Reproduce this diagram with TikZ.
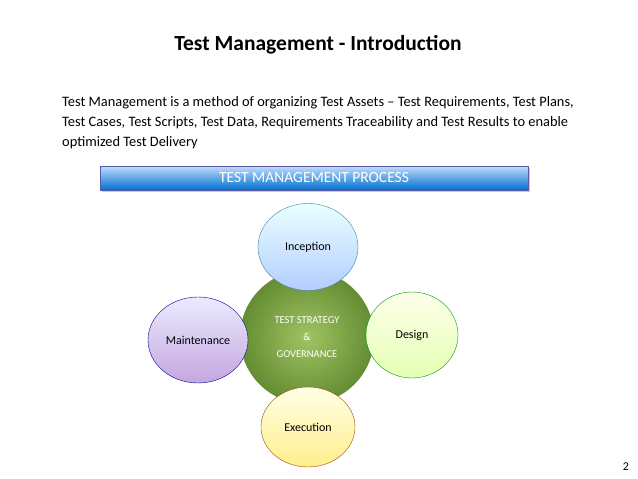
\documentclass[tikz,border=0pt]{standalone}
\usepackage{fontspec}
\setmainfont{Carlito}
\usetikzlibrary{positioning}
\tikzset{
  phase/.style={ellipse, draw=#1!60!black, thin, inner sep=0pt, font=\fontsize{12}{14}\selectfont},
}
\usetikzlibrary{shapes.geometric}
\definecolor{olive1}{RGB}{160,196,100}
\definecolor{olive2}{RGB}{100,140,50}
\begin{document}
\begin{tikzpicture}[x=1pt,y=-1pt]
\useasboundingbox (0,0) rectangle (638,479);

% Title and intro
\node (title) at (318,45) {\fontsize{21.5}{24}\selectfont\bfseries Test Management - Introduction};
\node (intro) [anchor=north west, align=left, inner sep=0pt, font=\fontsize{14.4}{20.3}\selectfont] at (62,96)
  {Test Management is a method of organizing Test Assets -- Test Requirements, Test Plans,\\
   Test Cases, Test Scripts, Test Data, Requirements Traceability and Test Results to enable\\
   optimized Test Delivery};

% Banner
\fill[black!20] (102,168) rectangle (530,192);
\shade[top color=cyan!45!blue!25, bottom color=blue!45!cyan!80!black, draw=blue!30!gray] (100,166) rectangle (528,190);
\node (banner) at (314,178) {\color{white}\fontsize{15.5}{17}\selectfont TEST MANAGEMENT PROCESS};

% Centre
\shade[inner color=olive1, outer color=olive2] (307,337) circle (67);
\node (core) [align=center, font=\fontsize{10.5}{17}\selectfont, text=white] at (307,337)
  {TEST STRATEGY\\ \&\\ GOVERNANCE};

% Phases
\node (incep) [phase=cyan, minimum width=100, minimum height=87, top color=cyan!8, bottom color=cyan!35!blue!30] at (308,247) {Inception};
\node (design) [phase=green, minimum width=92, minimum height=86, top color=green!8!yellow!8, bottom color=green!35!yellow!30] at (412,335) {Design};
\node (maint) [phase=blue, minimum width=100, minimum height=86, top color=blue!8, bottom color=blue!30!violet!35] at (198,340) {Maintenance};
\node (exec) [phase=orange, minimum width=94, minimum height=80, top color=yellow!10, bottom color=orange!30!yellow!45] at (308,427) {Execution};

\node (page) at (626,467) {\fontsize{12}{14}\selectfont 2};
\end{tikzpicture}
\end{document}
